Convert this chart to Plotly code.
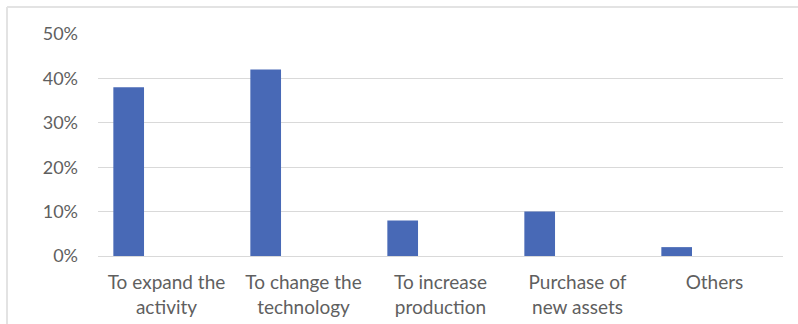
import plotly.graph_objects as go

categories = ["To expand the activity", "To change the technology", "To increase production",
              "Purchase of new assets", "Others"]
tick_labels = ["To expand the<br>activity", "To change the<br>technology", "To increase<br>production",
               "Purchase of<br>new assets", "Others"]
values = [0.38, 0.42, 0.08, 0.10, 0.02]
y_ticks = [0, 0.1, 0.2, 0.3, 0.4, 0.5]

FONT = "Lato"
GRAY = "#5f5f5f"

fig = go.Figure()
fig.add_trace(go.Bar(
    x=categories, y=values,
    width=0.224, offset=-0.388,
    marker=dict(color="#4869b6", line=dict(width=0)),
))

fig.update_layout(
    width=798, height=324,
    margin=dict(l=98, r=15, t=34, b=68),
    paper_bgcolor="white", plot_bgcolor="white",
    showlegend=False,
    font=dict(family=FONT, size=18, color=GRAY),
    xaxis=dict(
        tickmode="array", tickvals=categories, ticktext=tick_labels,
        tickfont=dict(size=19), automargin=False,
        showgrid=False, showline=True, linecolor="#d9d9d9", linewidth=1,
        ticks="", range=[-0.5, 4.5], ticklabelstandoff=9,
    ),
    yaxis=dict(
        range=[0, 0.5], tickvals=y_ticks, tickformat=".0%",
        tickfont=dict(size=18), automargin=False,
        showgrid=True, gridcolor="#d9d9d9", gridwidth=1,
        zeroline=False, showline=False, ticks="", ticklabelstandoff=19,
    ),
    shapes=[
        dict(type="line", xref="paper", yref="paper",
             x0=-91 / 685, x1=1 + 15 / 685, y0=1 + 27 / 222, y1=1 + 27 / 222,
             line=dict(color="#e3e3e3", width=2)),
        dict(type="line", xref="paper", yref="paper",
             x0=-91 / 685, x1=-91 / 685, y0=1 + 27 / 222, y1=-68 / 222,
             line=dict(color="#e3e3e3", width=2)),
    ],
)

fig.write_html("out.html")
